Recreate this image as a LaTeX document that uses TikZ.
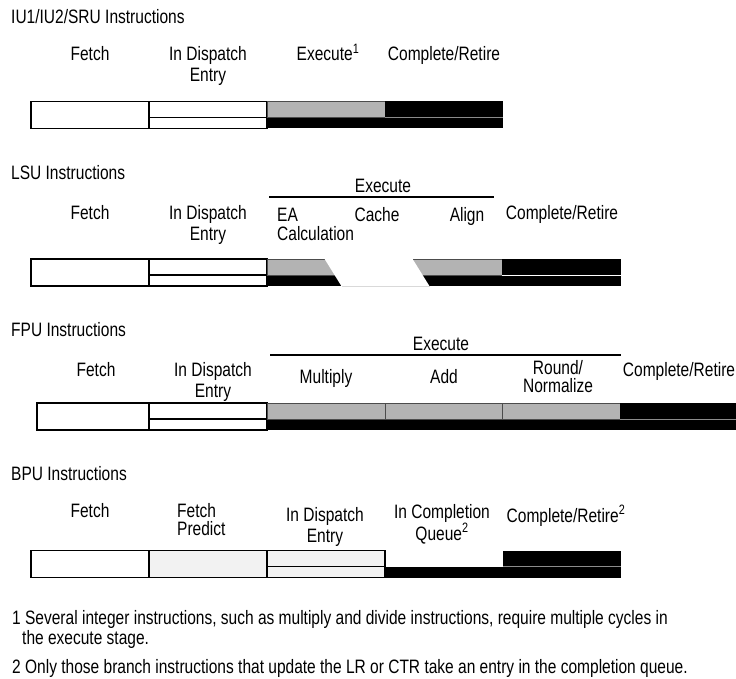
\documentclass[tikz,border=0pt]{standalone}
\usepackage{fontspec}
\setmainfont{Liberation Sans}[FakeStretch=0.8]
\usepackage{tikz}
\usetikzlibrary{positioning}
\definecolor{exgrey}{HTML}{B3B3B3}
\definecolor{pale}{HTML}{F2F2F2}
\definecolor{seprule}{HTML}{8C8C8C}
\newcommand{\lblsize}{\fontsize{19.4bp}{21bp}\selectfont}
\newcommand{\notesize}{\fontsize{19.4bp}{20bp}\selectfont}
\tikzset{
  lbl/.style  ={font=\lblsize, align=center, inner sep=0pt, anchor=base},
  lbll/.style ={lbl, align=left, anchor=base west},
  ttl/.style  ={font=\lblsize, inner sep=0pt, anchor=base west},
  note/.style ={font=\notesize, align=left, inner sep=0pt, anchor=base west},
  cell/.style ={draw=black, line width=1.1bp, fill=white},
  pcell/.style={cell, fill=pale},
  gcell/.style={draw=black!70, line width=0.8bp, fill=exgrey},
  sep/.style  ={draw=seprule, line width=0.8bp},
  hdr/.style  ={draw=black, line width=1.1bp},
}

\begin{document}
\begin{tikzpicture}[x=1bp,y=-1bp]
  \useasboundingbox (0,0) rectangle (736,679);
  \def\bh{27}\def\bm{16}
  % multi-line labels sit on the baseline of their LAST line

  % IU1/IU2/SRU
  \node[ttl] (iuT) at (11,24) {IU1/IU2/SRU Instructions};
  \node[lbl] (iuF) at (90,61) {Fetch};
  \node[lbl] (iuD) at (208,82) {In Dispatch\\Entry};
  \node[lbl] (iuX) at (328,61) {Execute\textsuperscript{1}};
  \node[lbl] (iuC) at (444,61) {Complete/Retire};
  \def\rowtop{101.5}
  \draw[cell] (31,\rowtop) rectangle (149,\rowtop+\bh);
  \draw[cell] (149,\rowtop) rectangle (267,\rowtop+\bm);
  \draw[cell] (149,\rowtop+\bm) rectangle (267,\rowtop+\bh);
  \fill (267,\rowtop+\bm) rectangle (385,\rowtop+\bh);
  \draw[gcell] (267,\rowtop) rectangle (385,\rowtop+\bm);
  \fill (385,\rowtop) rectangle (503,\rowtop+\bh);
  \draw[sep] (385,\rowtop+\bm) -- (503,\rowtop+\bm);

  % LSU
  \node[ttl] (lsT) at (11,179) {LSU Instructions};
  \node[lbl] (lsE) at (383,192) {Execute};
  \draw[hdr] (269,197) -- (494,197);
  \node[lbl] (lsF) at (90,219) {Fetch};
  \node[lbl] (lsD) at (208,240) {In Dispatch\\Entry};
  \node[lbll] (lsA) at (277,240) {EA\\[-2bp]Calculation};
  \node[lbl] (lsK) at (377,221) {Cache};
  \node[lbl] (lsL) at (467,221) {Align};
  \node[lbl] (lsC) at (562,219) {Complete/Retire};
  \def\rowtop{259}
  \draw[cell] (31,\rowtop) rectangle (149,\rowtop+\bh);
  \draw[cell] (149,\rowtop) rectangle (267,\rowtop+\bm);
  \draw[cell] (149,\rowtop+\bm) rectangle (267,\rowtop+\bh);
  \fill (267,\rowtop+\bm) rectangle (502,\rowtop+\bh);
  \draw[gcell] (267,\rowtop) rectangle (502,\rowtop+\bm);
  % the cache stage cuts the bar
  \fill[white] (324,\rowtop-1) -- (412,\rowtop-1) -- (430,\rowtop+\bh+1)
               -- (342,\rowtop+\bh+1) -- cycle;
  \draw[draw=black!15, line width=0.8bp] (342,\rowtop+\bh) -- (430,\rowtop+\bh);
  \fill (502,\rowtop) rectangle (621,\rowtop+\bh);
  \draw[sep, draw=white] (502,\rowtop+\bm) -- (621,\rowtop+\bm);

  % FPU
  \node[ttl] (fpT) at (11,336) {FPU Instructions};
  \node[lbl] (fpE) at (441,350) {Execute};
  \draw[hdr] (270,355) -- (621,355);
  \node[lbl] (fpF) at (96,376) {Fetch};
  \node[lbl] (fpD) at (213,397) {In Dispatch\\Entry};
  \node[lbl] (fpM) at (326,383) {Multiply};
  \node[lbl] (fpA) at (444,383) {Add};
  \node[lbl] (fpR) at (558,392) {Round/\\[-3bp]Normalize};
  \node[lbl] (fpC) at (679,376) {Complete/Retire};
  \def\rowtop{403}
  \draw[cell] (37,\rowtop) rectangle (149,\rowtop+\bh);
  \draw[cell] (149,\rowtop) rectangle (267,\rowtop+\bm);
  \draw[cell] (149,\rowtop+\bm) rectangle (267,\rowtop+\bh);
  \foreach \xa/\xb in {267/385,385/502,502/620}{
    \fill (\xa,\rowtop+\bm) rectangle (\xb,\rowtop+\bh);
    \draw[gcell] (\xa,\rowtop) rectangle (\xb,\rowtop+\bm);
  }
  \fill (620,\rowtop) rectangle (738,\rowtop+\bh);
  \draw[sep] (620,\rowtop+\bm) -- (738,\rowtop+\bm);

  % BPU
  \node[ttl] (bpT) at (11,480) {BPU Instructions};
  \node[lbl] (bpF) at (90,517) {Fetch};
  \node[lbll] (bpP) at (177,535) {Fetch\\[-3bp]Predict};
  \node[lbl] (bpD) at (325,542) {In Dispatch\\Entry};
  \node[lbl] (bpQ) at (442,540) {In Completion\\Queue\textsuperscript{2}};
  \node[lbl] (bpC) at (566,522) {Complete/Retire\textsuperscript{2}};
  \def\rowtop{550.5}
  \draw[cell] (31,\rowtop) rectangle (149,\rowtop+\bh);
  \draw[pcell] (149,\rowtop) rectangle (267,\rowtop+\bh);
  \draw[pcell] (267,\rowtop) rectangle (385,\rowtop+\bm);
  \draw[pcell] (267,\rowtop+\bm) rectangle (385,\rowtop+\bh);
  \fill (385,\rowtop+\bm) rectangle (503,\rowtop+\bh);
  \fill (503,\rowtop) rectangle (621,\rowtop+\bh);
  \draw[sep] (503,\rowtop+\bm) -- (621,\rowtop+\bm);

  % notes
  \node[note] (n1) at (12,644) {1 Several integer instructions, such as multiply and divide instructions, require multiple cycles in\\
    \hspace*{10bp}the execute stage.};
  \node[note] (n2) at (12,673) {2 Only those branch instructions that update the LR or CTR take an entry in the completion queue.};
\end{tikzpicture}
\end{document}
